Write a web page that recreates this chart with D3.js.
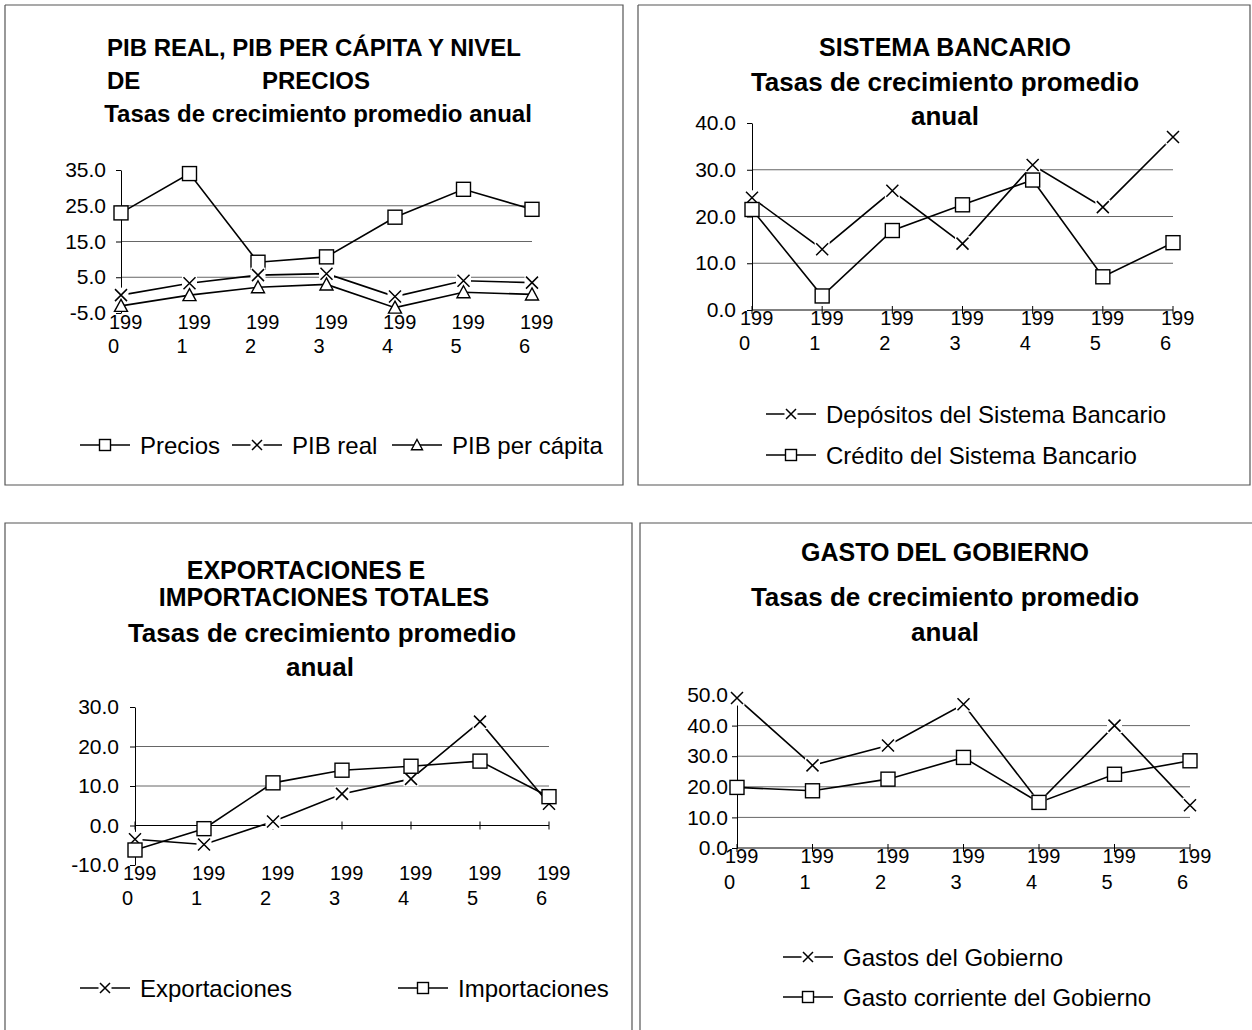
<!DOCTYPE html>
<html>
<head>
<meta charset="utf-8">
<script src="https://cdnjs.cloudflare.com/ajax/libs/d3/7.8.5/d3.min.js"></script>
<style>
  body { margin: 0; background: #fff; }
  svg text { font-family: "Liberation Sans", Arial, sans-serif; fill: #000; }
</style>
</head>
<body>
<div id="chart"></div>
<script>
var years = ["1990", "1991", "1992", "1993", "1994", "1995", "1996"];

// PIB real, PIB per capita y nivel de precios
var precios = [23.0, 34.0, 9.2, 10.7, 21.8, 29.6, 24.0];
var pibReal = [0.0, 3.3, 5.6, 6.0, -0.4, 4.0, 3.5];
var pibPerCapita = [-3.0, 0.0, 2.2, 3.0, -3.5, 0.8, 0.2];
var ticksPib = [-5, 5, 15, 25, 35];

// Sistema bancario
var depositos = [24.0, 13.0, 25.5, 14.2, 31.0, 22.0, 37.0];
var credito = [21.5, 3.0, 17.0, 22.5, 27.8, 7.1, 14.4];
var ticksBanco = [0, 10, 20, 30, 40];

// Exportaciones e importaciones
var exportaciones = [-3.5, -4.8, 1.0, 8.0, 11.8, 26.3, 5.5];
var importaciones = [-6.2, -0.8, 10.8, 14.0, 15.0, 16.3, 7.3];
var ticksComercio = [-10, 0, 10, 20, 30];

// Gasto del gobierno
var gastos = [49.0, 27.0, 33.5, 47.0, 15.0, 40.0, 14.0];
var gastoCorriente = [19.8, 18.7, 22.5, 29.6, 14.9, 24.1, 28.5];
var ticksGasto = [0, 10, 20, 30, 40, 50];

var width = 1252, height = 1030;
var svg = d3.select("#chart").append("svg")
    .attr("width", width)
    .attr("height", height);

// plain hyphen for negatives, like the original
var fmt = function(v) { return v.toFixed(1); };

// panel frames
var frameColor = "#555";
function frame(pts) {
    svg.append("path")
       .attr("d", d3.line()(pts))
       .attr("fill", "none")
       .attr("stroke", frameColor)
       .attr("stroke-width", 1.2);
}
frame([[5, 5], [623, 5], [623, 485], [5, 485], [5, 5]]);
frame([[638, 5], [1250, 5], [1250, 485], [638, 485], [638, 5]]);
frame([[5, 1030], [5, 523], [632, 523], [632, 1030]]);
frame([[640, 1030], [640, 523], [1252, 523]]);

function drawMarker(g, type, cx, cy, s) {
    if (type === "square") {
        g.append("rect")
         .attr("x", cx - s / 2).attr("y", cy - s / 2)
         .attr("width", s).attr("height", s)
         .attr("fill", "#fff").attr("stroke", "#000").attr("stroke-width", 1.4);
    } else if (type === "x") {
        var h = s / 2 - 0.5;
        g.append("rect")
         .attr("x", cx - s / 2 - 1).attr("y", cy - s / 2 - 1)
         .attr("width", s + 2).attr("height", s + 2)
         .attr("fill", "#fff");
        g.append("path")
         .attr("d", `M${cx - h},${cy - h}L${cx + h},${cy + h}M${cx - h},${cy + h}L${cx + h},${cy - h}`)
         .attr("stroke", "#000").attr("stroke-width", 1.5);
    } else if (type === "triangle") {
        var w = s / 2;
        g.append("path")
         .attr("d", `M${cx},${cy - w}L${cx + w},${cy + w * 0.85}L${cx - w},${cy + w * 0.85}Z`)
         .attr("fill", "#fff").attr("stroke", "#000").attr("stroke-width", 1.4);
    }
}

function drawChart(o) {
    var g = svg.append("g");
    var x = d3.scalePoint().domain(years).range(o.xRange);
    var y = d3.scaleLinear().domain(o.yDomain).range(o.yRange);

    // titles (y is the text centre)
    o.titles.forEach(function(t) {
        g.append("text")
         .attr("x", t.x).attr("y", t.y + 0.36 * t.size)
         .attr("text-anchor", t.anchor || "middle")
         .attr("font-size", t.size).attr("font-weight", "bold")
         .text(t.text);
    });

    // gridlines
    o.grid.forEach(function(v) {
        g.append("line")
         .attr("x1", o.xRange[0]).attr("x2", o.xRange[1])
         .attr("y1", y(v)).attr("y2", y(v))
         .attr("stroke", "#666").attr("stroke-width", 1);
    });

    // y axis
    var yAxis = d3.axisLeft(y)
        .tickValues(o.ticks)
        .tickFormat(fmt)
        .tickSizeInner(5)
        .tickSizeOuter(0)
        .tickPadding(o.labelGap);
    var ya = g.append("g")
        .attr("transform", `translate(${o.xRange[0]},0)`)
        .call(yAxis);
    ya.select(".domain").attr("stroke", "#000").attr("stroke-width", 1);
    ya.selectAll(".tick line").attr("stroke", "#000");
    ya.selectAll(".tick text")
      .attr("font-size", 21)
      .attr("font-family", "Liberation Sans, Arial, sans-serif")
      .attr("fill", "#000");

    // x axis line with crossing ticks
    if (o.xAxisAt !== null) {
        g.append("line")
         .attr("x1", o.xRange[0]).attr("x2", o.xRange[1])
         .attr("y1", y(o.xAxisAt)).attr("y2", y(o.xAxisAt))
         .attr("stroke", "#000").attr("stroke-width", 1);
        years.forEach(function(yr) {
            g.append("line")
             .attr("x1", x(yr)).attr("x2", x(yr))
             .attr("y1", y(o.xAxisAt) - 4).attr("y2", y(o.xAxisAt) + 4)
             .attr("stroke", "#000");
        });
    }

    // category labels, wrapped as "199" / "0"
    var base = y(o.yDomain[0]);
    years.forEach(function(yr) {
        var t = g.append("text")
            .attr("font-size", 20)
            .attr("text-anchor", "start");
        t.append("tspan")
         .attr("x", x(yr) - 12).attr("y", base + o.labelDy[0])
         .text(yr.slice(0, 3));
        t.append("tspan")
         .attr("x", x(yr) - 13).attr("y", base + o.labelDy[1])
         .text(yr.slice(3));
    });

    // series lines then markers
    o.series.forEach(function(s) {
        var line = d3.line()
            .x(function(d, i) { return x(years[i]); })
            .y(function(d) { return y(d); });
        g.append("path")
         .datum(s.values)
         .attr("d", line)
         .attr("fill", "none")
         .attr("stroke", "#000")
         .attr("stroke-width", 1.6);
    });
    o.series.forEach(function(s) {
        s.values.forEach(function(v, i) {
            drawMarker(g, s.marker, x(years[i]), y(v), s.marker === "square" ? 14 : 13);
        });
    });

    // legend
    o.legend.forEach(function(l) {
        g.append("line")
         .attr("x1", l.x).attr("x2", l.x + 50)
         .attr("y1", l.y).attr("y2", l.y)
         .attr("stroke", "#000").attr("stroke-width", 1.5);
        drawMarker(g, l.marker, l.x + 25, l.y, 11);
        g.append("text")
         .attr("x", l.x + 60).attr("y", l.y + 8.5)
         .attr("font-size", 24)
         .text(l.text);
    });
}

drawChart({
    xRange: [121, 532],
    yDomain: [-5, 35],
    yRange: [313, 170],
    ticks: ticksPib,
    grid: [5, 15, 25],
    xAxisAt: null,
    labelGap: 10,
    labelDy: [16, 40],
    titles: [
        {text: "PIB REAL, PIB PER CÁPITA Y NIVEL", x: 107, y: 47, size: 24, anchor: "start"},
        {text: "DE", x: 107, y: 80, size: 24, anchor: "start"},
        {text: "PRECIOS", x: 262, y: 80, size: 24, anchor: "start"},
        {text: "Tasas de crecimiento promedio anual", x: 318, y: 113, size: 24}
    ],
    series: [
        {values: precios, marker: "square"},
        {values: pibReal, marker: "x"},
        {values: pibPerCapita, marker: "triangle"}
    ],
    legend: [
        {x: 80, y: 445, marker: "square", text: "Precios"},
        {x: 232, y: 445, marker: "x", text: "PIB real"},
        {x: 392, y: 445, marker: "triangle", text: "PIB per cápita"}
    ]
});

drawChart({
    xRange: [752, 1173],
    yDomain: [0, 40],
    yRange: [310, 123],
    ticks: ticksBanco,
    grid: [10, 20, 30],
    xAxisAt: 0,
    labelGap: 11,
    labelDy: [15, 40],
    titles: [
        {text: "SISTEMA BANCARIO", x: 945, y: 47, size: 25},
        {text: "Tasas de crecimiento promedio", x: 945, y: 82, size: 26},
        {text: "anual", x: 945, y: 116, size: 26}
    ],
    series: [
        {values: depositos, marker: "x"},
        {values: credito, marker: "square"}
    ],
    legend: [
        {x: 766, y: 414, marker: "x", text: "Depósitos del Sistema Bancario"},
        {x: 766, y: 455, marker: "square", text: "Crédito del Sistema Bancario"}
    ]
});

drawChart({
    xRange: [135, 549],
    yDomain: [-10, 30],
    yRange: [865, 707],
    ticks: ticksComercio,
    grid: [10, 20],
    xAxisAt: 0,
    labelGap: 11,
    labelDy: [15, 40],
    titles: [
        {text: "EXPORTACIONES E", x: 306, y: 570, size: 25},
        {text: "IMPORTACIONES TOTALES", x: 324, y: 597, size: 25},
        {text: "Tasas de crecimiento promedio", x: 322, y: 633, size: 26},
        {text: "anual", x: 320, y: 667, size: 26}
    ],
    series: [
        {values: exportaciones, marker: "x"},
        {values: importaciones, marker: "square"}
    ],
    legend: [
        {x: 80, y: 988, marker: "x", text: "Exportaciones"},
        {x: 398, y: 988, marker: "square", text: "Importaciones"}
    ]
});

drawChart({
    xRange: [737, 1190],
    yDomain: [0, 50],
    yRange: [848, 695],
    ticks: ticksGasto,
    grid: [10, 20, 30, 40],
    xAxisAt: 0,
    labelGap: 4,
    labelDy: [15, 41],
    titles: [
        {text: "GASTO DEL GOBIERNO", x: 945, y: 552, size: 25},
        {text: "Tasas de crecimiento promedio", x: 945, y: 597, size: 26},
        {text: "anual", x: 945, y: 632, size: 26}
    ],
    series: [
        {values: gastos, marker: "x"},
        {values: gastoCorriente, marker: "square"}
    ],
    legend: [
        {x: 783, y: 957, marker: "x", text: "Gastos del Gobierno"},
        {x: 783, y: 997, marker: "square", text: "Gasto corriente del Gobierno"}
    ]
});
</script>
</body>
</html>
